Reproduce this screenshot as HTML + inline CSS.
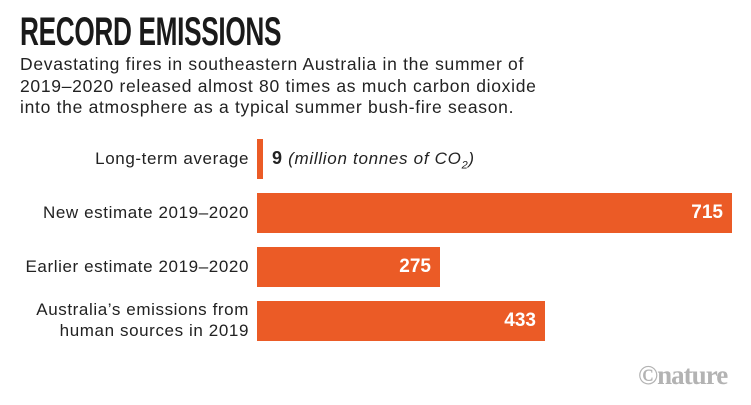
<!DOCTYPE html>
<html><head><meta charset="utf-8"><style>
body{margin:0;width:751px;height:405px;background:#fff;position:relative;overflow:hidden;font-family:"Liberation Sans",sans-serif;color:#222}
.t{position:absolute;left:20px;top:10px;font-weight:bold;font-size:40px;line-height:44px;transform:scaleX(0.655);transform-origin:0 0;white-space:nowrap;letter-spacing:-0.5px;color:#1a1a1a}
.s{position:absolute;left:20px;top:54px;font-size:17.5px;line-height:21.5px;white-space:nowrap;letter-spacing:0.7px}
.bar{position:absolute;left:257px;height:40px;background:#eb5b26}
.v{position:absolute;right:9px;top:0;line-height:40px;color:#fff;font-weight:bold;font-size:19px}
.l{position:absolute;right:502px;font-size:17px;text-align:right;line-height:21px;white-space:nowrap;letter-spacing:0.6px}
</style></head><body>
<div class="t">RECORD EMISSIONS</div>
<div class="s">Devastating fires in southeastern Australia in the summer of<br>2019–2020 released almost 80 times as much carbon dioxide<br>into the atmosphere as a typical summer bush-fire season.</div>
<div class="bar" style="top:139px;width:6px"></div>
<div style="position:absolute;left:272px;top:148px;font-size:17px;line-height:21px;white-space:nowrap;letter-spacing:0.7px"><b style="font-size:18px">9</b> <i>(million tonnes of CO<sub style="font-size:11px">2</sub>)</i></div>
<div class="bar" style="top:193px;width:475px"><span class="v">715</span></div>
<div class="bar" style="top:247px;width:183px"><span class="v">275</span></div>
<div class="bar" style="top:301px;width:288px"><span class="v">433</span></div>
<div class="l" style="top:148px">Long-term average</div>
<div class="l" style="top:202px">New estimate 2019–2020</div>
<div class="l" style="top:256px">Earlier estimate 2019–2020</div>
<div class="l" style="top:299px">Australia’s emissions from<br>human sources in 2019</div>
<div style="position:absolute;left:638px;top:360px;font-family:'Liberation Serif',serif;font-weight:bold;font-size:27px;color:#b3b3b3;letter-spacing:-1px">©nature</div>
</body></html>
